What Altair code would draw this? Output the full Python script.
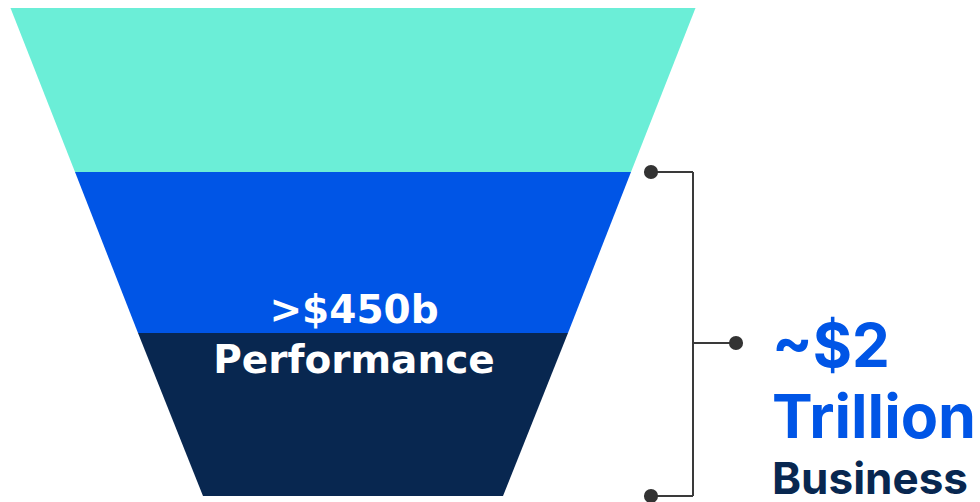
import altair as alt
import pandas as pd

# Funnel stages (top to bottom), boundary levels and half-widths (chart units)
stages = ["Brand", "Mid-funnel", "Performance"]
stage_colors = ["#6BEED7", "#0055E6", "#082750"]
stage_top = [8, 172, 333]
stage_bottom = [172, 333, 496]
half_top = [342.5, 278, 215]
half_bottom = [278, 215, 150]
center_x = 353

# Labels
inner_labels = [">$450b", "Performance"]
inner_label_y = [323, 373]
side_labels = ["~$2", "Trillion", "Business"]
side_label_y = [367, 438, 494]
side_label_colors = ["#0055E6", "#0055E6", "#082750"]
side_label_sizes = [60, 61, 44]

# Bracket
bracket_x = 693
bracket_dot_x = [651, 736, 651]
bracket_dot_y = [172, 343, 496]

rows = []
for i, s in enumerate(stages):
    rows.append({"stage": s, "y": stage_top[i], "xl": center_x - half_top[i], "xr": center_x + half_top[i]})
    rows.append({"stage": s, "y": stage_bottom[i], "xl": center_x - half_bottom[i], "xr": center_x + half_bottom[i]})
funnel_df = pd.DataFrame(rows)

xs = alt.Scale(domain=[0, 980], range=[0, 980], nice=False, zero=False)
ys = alt.Scale(domain=[502, 0], nice=False, zero=False)

funnel = alt.Chart(funnel_df).mark_area(orient="horizontal", interpolate="linear").encode(
    y=alt.Y("y:Q", scale=ys, axis=None),
    x=alt.X("xl:Q", scale=xs, axis=None),
    x2="xr:Q",
    color=alt.Color("stage:N", scale=alt.Scale(domain=stages, range=stage_colors), legend=None),
    detail="stage:N",
)

inner_df = pd.DataFrame({"label": inner_labels, "y": inner_label_y, "x": [center_x + 1] * 2})
inner = alt.Chart(inner_df).mark_text(
    font="DejaVu Sans", fontWeight="bold", fontSize=39, color="white", align="center", baseline="alphabetic"
).encode(x=alt.X("x:Q", scale=xs), y=alt.Y("y:Q", scale=ys), text="label:N")

side_df = pd.DataFrame({"label": side_labels, "y": side_label_y, "x": [772] * 3,
                        "c": side_label_colors, "s": side_label_sizes})
side = alt.Chart(side_df).mark_text(
    font="Inter", fontWeight="bold", align="left", baseline="alphabetic"
).encode(
    x=alt.X("x:Q", scale=xs), y=alt.Y("y:Q", scale=ys), text="label:N",
    color=alt.Color("c:N", scale=None),
    size=alt.Size("s:Q", scale=None),
)

seg_df = pd.DataFrame({
    "x": [bracket_x, bracket_dot_x[0], bracket_x, bracket_dot_x[2]],
    "x2": [bracket_x, bracket_x, bracket_dot_x[1], bracket_x],
    "y": [bracket_dot_y[0], bracket_dot_y[0], bracket_dot_y[1], bracket_dot_y[2]],
    "y2": [bracket_dot_y[2], bracket_dot_y[0], bracket_dot_y[1], bracket_dot_y[2]],
})
segs = alt.Chart(seg_df).mark_rule(color="#3A3A3A", strokeWidth=2).encode(
    x=alt.X("x:Q", scale=xs), x2="x2:Q", y=alt.Y("y:Q", scale=ys), y2="y2:Q"
)

dot_df = pd.DataFrame({"x": bracket_dot_x, "y": bracket_dot_y})
dots = alt.Chart(dot_df).mark_circle(color="#333333", opacity=1, size=200).encode(
    x=alt.X("x:Q", scale=xs), y=alt.Y("y:Q", scale=ys)
)

chart = alt.layer(funnel, segs, dots, inner, side).properties(
    width=980, height=502, padding=0, autosize=alt.AutoSizeParams(type="none"), background="white"
).configure_view(stroke=None)

chart.save("out.html", embed_options={"renderer": "svg", "actions": False})
